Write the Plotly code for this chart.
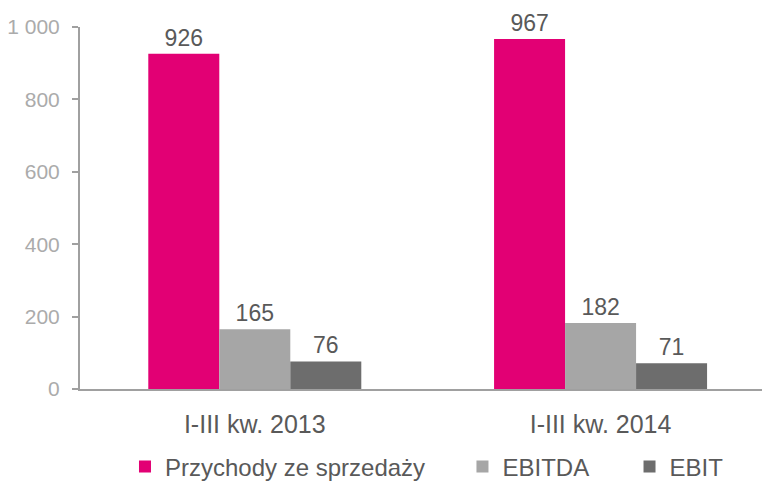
import plotly.graph_objects as go

categories = ["I-III kw. 2013", "I-III kw. 2014"]
series_names = ["Przychody ze sprzedaży", "EBITDA", "EBIT"]
revenue = [926, 967]
ebitda = [165, 182]
ebit = [76, 71]
colors = ["#E20074", "#A6A6A6", "#6D6D6D"]
y_ticks = [0, 200, 400, 600, 800, 1000]
y_ticklabels = ["0", "200", "400", "600", "800", "1 000"]

FONT = "Liberation Sans, Arial, sans-serif"
legend_ids = ["legend", "legend2", "legend3"]
legend_x = [0.0652, 0.5543, 0.7964]

fig = go.Figure()
for name, vals, col, lid in zip(series_names, [revenue, ebitda, ebit], colors, legend_ids):
    fig.add_trace(go.Bar(
        x=[0, 1], y=vals, name=name, legend=lid,
        marker=dict(color=col, line=dict(width=0)),
        text=[str(v) for v in vals], textposition="outside",
        textfont=dict(family=FONT, size=23, color="#595959"),
        cliponaxis=False,
    ))

legend_common = dict(orientation="h", xref="paper", yref="container",
                     y=0.0457, yanchor="middle", xanchor="left",
                     font=dict(family=FONT, size=24, color="#595959"),
                     bgcolor="rgba(0,0,0,0)", borderwidth=0)
layout_legends = {}
for lid, lx in zip(legend_ids, legend_x):
    layout_legends[lid] = dict(legend_common, x=lx)

fig.update_layout(
    width=770, height=481,
    margin=dict(l=72, r=8, t=19, b=100, autoexpand=False),
    plot_bgcolor="white", paper_bgcolor="white",
    barmode="group", bargap=0.384, bargroupgap=0,
    font=dict(family=FONT),
    showlegend=True,
    **layout_legends,
    xaxis=dict(range=[-0.5055, 1.49], tickvals=[0, 1], ticktext=categories,
               automargin=False,
               showline=True, linecolor="#A0A0A0", linewidth=2, ticks="",
               ticklabelstandoff=12,
               tickfont=dict(family=FONT, size=25, color="#595959"),
               showgrid=False, zeroline=False),
    yaxis=dict(range=[0, 1000], tickvals=y_ticks, ticktext=y_ticklabels,
               automargin=False,
               showline=True, linecolor="#A0A0A0", linewidth=2,
               ticks="outside", ticklen=6, tickcolor="#A0A0A0", tickwidth=2,
               ticklabelstandoff=8,
               tickfont=dict(family=FONT, size=21, color="#ABABAB"),
               showgrid=False, zeroline=False),
)

fig.write_html("out.html")
